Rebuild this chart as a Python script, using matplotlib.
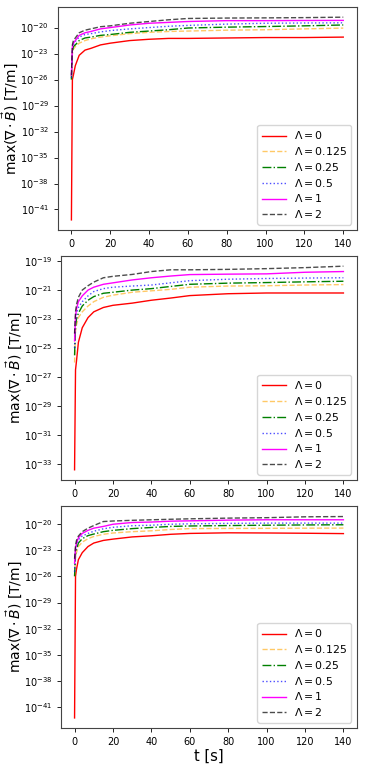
import numpy as np
import matplotlib

matplotlib.use("Agg")
import matplotlib.pyplot as plt
from matplotlib.ticker import NullLocator

# sample times [s] and log10 of max(div B)
t_s = [0, 0.5, 1, 2, 4, 7, 10, 15, 20, 30, 40, 50, 60, 80, 100, 120, 140]

LAMBDAS = ["0", "0.125", "0.25", "0.5", "1", "2"]

# top panel
top_l0 = [-42.2, -26.0, -25.5, -24.4, -23.2, -22.6, -22.4, -22.0, -21.8, -21.5, -21.35, -21.25, -21.25, -21.2, -21.15, -21.15, -21.1]
top_l0125 = [-26.0, -23.0, -22.5, -22.2, -21.8, -21.5, -21.3, -21.1, -20.95, -20.7, -20.55, -20.45, -20.4, -20.3, -20.25, -20.15, -20.06]
top_l025 = [-26.0, -22.8, -22.2, -22.0, -21.5, -21.2, -21.1, -20.9, -20.8, -20.55, -20.4, -20.25, -20.05, -19.95, -19.88, -19.8, -19.7]
top_l05 = [-25.8, -22.5, -22.0, -21.6, -21.1, -20.8, -20.7, -20.5, -20.35, -20.15, -20.0, -19.85, -19.75, -19.6, -19.5, -19.47, -19.45]
top_l1 = [-25.5, -22.2, -21.8, -21.5, -20.9, -20.6, -20.45, -20.15, -20.0, -19.7, -19.5, -19.4, -19.3, -19.2, -19.2, -19.18, -19.17]
top_l2 = [-25.5, -22.0, -21.5, -21.2, -20.6, -20.3, -20.15, -19.9, -19.8, -19.5, -19.3, -19.1, -18.95, -18.9, -18.88, -18.85, -18.8]

# middle panel
mid_l0 = [-33.4, -26.5, -25.9, -24.6, -23.6, -22.9, -22.5, -22.2, -22.05, -21.9, -21.7, -21.55, -21.38, -21.25, -21.2, -21.2, -21.2]
mid_l0125 = [-26.0, -23.8, -23.4, -22.9, -22.5, -22.1, -21.8, -21.5, -21.35, -21.15, -21.05, -20.95, -20.8, -20.72, -20.7, -20.65, -20.62]
mid_l025 = [-25.5, -23.5, -23.0, -22.6, -22.1, -21.7, -21.45, -21.22, -21.15, -21.0, -20.9, -20.75, -20.6, -20.52, -20.48, -20.43, -20.39]
mid_l05 = [-25.0, -23.2, -22.6, -22.2, -21.8, -21.4, -21.1, -20.9, -20.8, -20.72, -20.65, -20.5, -20.35, -20.25, -20.2, -20.17, -20.15]
mid_l1 = [-24.5, -22.8, -22.3, -21.8, -21.4, -21.0, -20.8, -20.6, -20.5, -20.3, -20.15, -20.03, -19.93, -19.9, -19.88, -19.77, -19.72]
mid_l2 = [-24.0, -22.5, -22.0, -21.5, -21.0, -20.7, -20.45, -20.15, -20.05, -19.92, -19.72, -19.6, -19.6, -19.57, -19.52, -19.45, -19.35]

# bottom panel
bot_l0 = [-42.2, -26.0, -25.2, -24.1, -23.3, -22.6, -22.2, -21.9, -21.75, -21.5, -21.37, -21.2, -21.1, -21.03, -21.05, -21.08, -21.12]
bot_l0125 = [-26.0, -23.8, -23.3, -22.6, -22.1, -21.7, -21.45, -21.2, -21.05, -20.9, -20.8, -20.65, -20.55, -20.53, -20.52, -20.5, -20.49]
bot_l025 = [-26.0, -23.4, -22.9, -22.2, -21.7, -21.35, -21.17, -20.9, -20.75, -20.55, -20.42, -20.3, -20.25, -20.2, -20.16, -20.13, -20.11]
bot_l05 = [-25.5, -23.0, -22.5, -21.8, -21.4, -21.1, -20.85, -20.57, -20.4, -20.22, -20.16, -20.05, -20.0, -19.95, -19.92, -19.92, -19.92]
bot_l1 = [-24.5, -22.8, -22.2, -21.6, -21.1, -20.75, -20.5, -20.3, -20.05, -19.85, -19.8, -19.7, -19.66, -19.58, -19.54, -19.54, -19.54]
bot_l2 = [-24.0, -22.5, -21.9, -21.4, -20.9, -20.5, -20.2, -19.74, -19.68, -19.6, -19.54, -19.48, -19.43, -19.35, -19.3, -19.2, -19.17]

top_ticks = list(range(-41, -19, 3))
mid_ticks = list(range(-33, -18, 2))
bot_ticks = list(range(-41, -19, 3))

styles = [
    dict(color="red", ls="-"),
    dict(color="orange", ls="--", alpha=0.6),
    dict(color="green", ls="-."),
    dict(color="blue", ls=":", alpha=0.7),
    dict(color="magenta", ls="-"),
    dict(color="black", ls="--", alpha=0.7),
]

panels = [
    ([top_l0, top_l0125, top_l025, top_l05, top_l1, top_l2], top_ticks),
    ([mid_l0, mid_l0125, mid_l025, mid_l05, mid_l1, mid_l2], mid_ticks),
    ([bot_l0, bot_l0125, bot_l025, bot_l05, bot_l1, bot_l2], bot_ticks),
]

positions = [
    [0.158, 0.6997, 0.817, 0.2911],
    [0.167, 0.3734, 0.808, 0.2924],
    [0.167, 0.0496, 0.808, 0.2892],
]

fig = plt.figure(figsize=(3.66, 7.66), dpi=100)

for i, ((series, ticks), pos) in enumerate(zip(panels, positions)):
    ax = fig.add_axes(pos)
    for lam, vals, st in zip(LAMBDAS, series, styles):
        ax.semilogy(t_s, 10.0 ** np.array(vals), lw=1.0,
                    label=rf"$\Lambda = {lam}$", **st)
    ax.set_yticks([10.0 ** e for e in ticks])
    ax.yaxis.set_minor_locator(NullLocator())
    ax.set_xticks(range(0, 141, 20))
    ax.tick_params(labelsize=7, length=3, width=0.6)
    for sp in ax.spines.values():
        sp.set_linewidth(0.8)
        sp.set_color("#444444")
    ax.set_ylabel(r"max$(\nabla\cdot\vec{B})$ [T/m]", fontsize=10, labelpad=0)
    ax.legend(loc="lower right", fontsize=7.8, handlelength=2.2,
              labelspacing=0.35, borderpad=0.4)
    if i == 2:
        ax.set_xlabel("t [s]", fontsize=10.5, labelpad=1)

fig.savefig("out.png", dpi=100)
